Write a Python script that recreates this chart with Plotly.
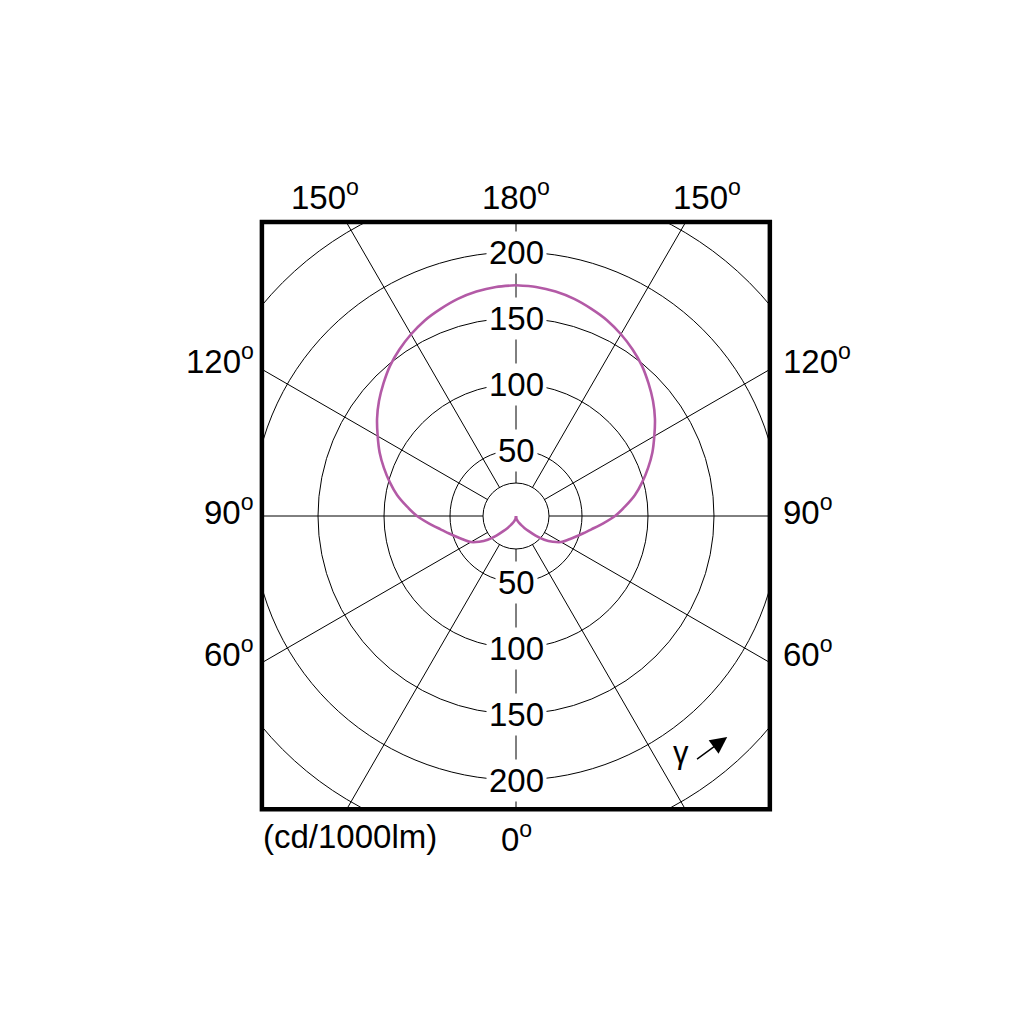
import plotly.graph_objects as go

# ---- data (cd/1000lm), symmetric about the vertical axis ----
gamma = [0, 5, 10, 15, 20, 25, 30, 35, 40, 45, 50, 55, 60, 65, 70, 75, 80, 85, 90,
         95, 100, 105, 110, 115, 120, 125, 130, 135, 140, 145, 150, 155, 160, 165,
         170, 175, 180]
intensity = [0, 1, 2, 3, 4.5, 6, 8, 11, 15, 21, 28, 34, 39.5, 43, 47, 52, 58, 66, 75,
             83, 91.5, 99, 106.5, 114, 121, 128.5, 135.5, 142, 148.5, 154, 159, 163.5,
             167, 170.3, 172.7, 174.2, 174.8]

ring_values = [25, 50, 100, 150, 200, 250]
ring_labels = [50, 100, 150, 200]
spoke_angles = list(range(0, 360, 30))
angle_labels_top = ["150", "180", "150"]
angle_labels_side = ["120", "90", "60"]
unit_label = "(cd/1000lm)"

R_MAX = 300
FONT = "Liberation Sans, Arial, sans-serif"
FS = 33
CURVE_COLOR = "#B35AA6"

# polar domain (square, in paper fractions); page body has an 8px offset
cx, cy = 508 / 1024, (1024 - 508) / 1024
half = 396 / 1024
xdom = [cx - half, cx + half]
ydom = [cy - half, cy + half]

fig = go.Figure()

# spokes from inner ring outward
sp_r, sp_t = [], []
for a in spoke_angles:
    sp_r += [ring_values[0], R_MAX, None]
    sp_t += [a, a, None]
fig.add_trace(go.Scatterpolar(r=sp_r, theta=sp_t, mode="lines",
                              line=dict(color="black", width=1),
                              hoverinfo="skip", showlegend=False))

# luminous intensity curve: right half and mirrored left half
for th in (gamma, [360 - g for g in gamma]):
    fig.add_trace(go.Scatterpolar(r=intensity, theta=th, mode="lines",
                                  line=dict(color=CURVE_COLOR, width=2.6,
                                            shape="spline", smoothing=0.8),
                                  showlegend=False))

# invisible cartesian overlay sharing the same scale
fig.add_trace(go.Scatter(x=[None], y=[None], showlegend=False, hoverinfo="skip"))

fig.update_layout(
    width=1024, height=1024,
    margin=dict(l=0, r=0, t=0, b=0),
    paper_bgcolor="white", plot_bgcolor="rgba(0,0,0,0)",
    font=dict(family=FONT, size=FS, color="black"),
    polar=dict(
        domain=dict(x=xdom, y=ydom),
        bgcolor="white",
        radialaxis=dict(range=[0, R_MAX], tickvals=ring_values, showticklabels=False,
                        ticks="", showline=False, showgrid=True,
                        gridcolor="black", gridwidth=1),
        angularaxis=dict(rotation=-90, direction="counterclockwise",
                         showgrid=False, showline=False, showticklabels=False,
                         ticks=""),
    ),
    xaxis=dict(domain=xdom, range=[-R_MAX, R_MAX], visible=False, fixedrange=True),
    yaxis=dict(domain=ydom, range=[-R_MAX, R_MAX], visible=False, fixedrange=True),
)

# frame box (in radial units) and white masks outside it
BL, BR, BT, BB = -192.5, 192.3, 222.7, -222.2
shapes = [
    dict(type="rect", xref="x", yref="y", x0=-R_MAX, x1=BL, y0=-R_MAX, y1=R_MAX,
         fillcolor="white", line=dict(width=0), layer="above"),
    dict(type="rect", xref="x", yref="y", x0=BR, x1=R_MAX, y0=-R_MAX, y1=R_MAX,
         fillcolor="white", line=dict(width=0), layer="above"),
    dict(type="rect", xref="x", yref="y", x0=BL, x1=BR, y0=BT, y1=R_MAX,
         fillcolor="white", line=dict(width=0), layer="above"),
    dict(type="rect", xref="x", yref="y", x0=BL, x1=BR, y0=-R_MAX, y1=BB,
         fillcolor="white", line=dict(width=0), layer="above"),
    dict(type="rect", xref="x", yref="y", x0=BL, x1=BR, y0=BB, y1=BT,
         fillcolor="rgba(0,0,0,0)", line=dict(color="black", width=4.5),
         layer="above"),
]
fig.update_layout(shapes=shapes)

ann = []
# ring labels above and below centre
for v in ring_labels:
    for s in (1, -1):
        ann.append(dict(x=0, y=s * v, xref="x", yref="y", text=str(v),
                        showarrow=False, bgcolor="white", borderpad=2,
                        xanchor="center", yanchor="middle",
                        font=dict(size=FS)))

deg = "<sup>o</sup>"
# top angle labels
for xv, t in zip([-145, 0, 145], angle_labels_top):
    ann.append(dict(x=xv, y=243, xref="x", yref="y", text=t + deg, showarrow=False,
                    xanchor="center", yanchor="middle"))
# side angle labels
for yv, t in zip([119, 4.5, -103], angle_labels_side):
    ann.append(dict(x=-197, y=yv, xref="x", yref="y", text=t + deg, showarrow=False,
                    xanchor="right", yanchor="middle"))
    ann.append(dict(x=200.5, y=yv, xref="x", yref="y", text=t + deg, showarrow=False,
                    xanchor="left", yanchor="middle"))
# bottom labels
ann.append(dict(x=0, y=-243, xref="x", yref="y", text="0" + deg, showarrow=False,
                xanchor="center", yanchor="middle"))
ann.append(dict(x=-126, y=-243, xref="x", yref="y", text=unit_label, showarrow=False,
                xanchor="center", yanchor="middle"))
# gamma symbol and arrow
ann.append(dict(x=125, y=-179, xref="x", yref="y", text="γ", showarrow=False,
                xanchor="center", yanchor="middle", font=dict(size=31)))
ann.append(dict(x=160, y=-167.5, xref="x", yref="y", ax=136, ay=-185,
                axref="x", ayref="y", text="", showarrow=True, arrowhead=2,
                arrowsize=2.4, arrowwidth=1.4, arrowcolor="black"))
fig.update_layout(annotations=ann)

fig.write_html("out.html")
